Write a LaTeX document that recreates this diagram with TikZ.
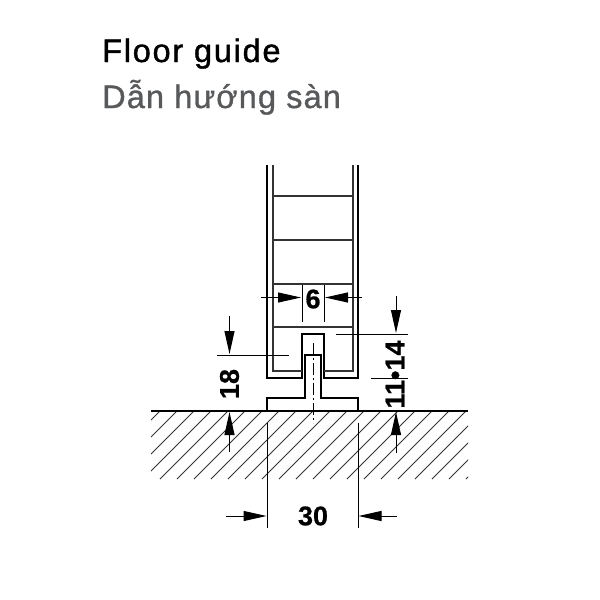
\documentclass[tikz,border=0pt]{standalone}
\usepackage{fontspec}
\setmainfont{Liberation Sans}
\newfontfamily\titlefont[LetterSpace=5.4,FakeBold=1.2]{Liberation Sans}
\newfontfamily\subtitlefont[LetterSpace=3.5,FakeBold=1]{Liberation Sans}
\newfontfamily\dimfont[FakeBold=.6]{Liberation Sans Bold}
\usetikzlibrary{arrows.meta,positioning}
\definecolor{subgray}{HTML}{58595B}
\definecolor{thingray}{HTML}{333333}
\begin{document}
\begin{tikzpicture}[x=1pt,y=-1pt,
		thick line/.style={line width=2pt, black},
		thin line/.style={line width=1.2pt, thingray},
		dimline/.style={line width=1pt, black},
		dimarrow/.style={line width=1pt, black, -{Triangle[length=23pt,width=10pt]}},
		dimtext/.style={font=\dimfont\fontsize{27}{27}\selectfont, inner sep=0pt}]
	\useasboundingbox (0,0) rectangle (600,600);
	\node[anchor=base west, inner sep=0pt, font=\titlefont\fontsize{32.5}{33}\selectfont] (title) at (102,62) {Floor guide};
	\node[anchor=base west, inner sep=0pt, font=\subtitlefont\fontsize{32.5}{33}\selectfont, text=subgray] (subtitle) at (102,108) {Dẫn hướng sàn};
	% floor hatching
	\begin{scope}
		\clip (151,411) rectangle (468,479);
		\foreach \hx in {75,92,...,500}{
			\draw[line width=.9pt, thingray] (\hx,479) -- ++(68,-68);
		}
	\end{scope}
	\draw[thick line] (151,411) -- (468,411);
	% profile
	\draw[thick line] (267,165) -- (267,378) -- (302,378) -- (302,334) -- (324,334) -- (324,378) -- (358,378) -- (358,165);
	\draw[thin line] (273,165) -- (273,371) -- (302,371);
	\draw[thin line] (324,371) -- (353,371) -- (353,165);
	\foreach \ry in {196,240,284,327}{
		\draw[thin line] (273,\ry) -- (353,\ry);
	}
	% guide
	\draw[thick line] (267,411) -- (267,398) -- (305,398) -- (305,355) -- (321,355) -- (321,398) -- (358,398) -- (358,411);
	\draw[line width=.9pt, dash pattern=on 12pt off 3pt on 2pt off 3pt] (313,343) -- (313,423);
	% dimension 6
	\node[dimtext] (six) at (313,299) {6};
	\coordinate (sixL) at (301,297.5);
	\coordinate (sixR) at (325,297.5);
	\coordinate (sixLend) at (261,297.5);
	\coordinate (sixRend) at (362,297.5);
	\draw[dimline] (302,285) -- (302,322);
	\draw[dimline] (324,285) -- (324,322);
	\draw[dimarrow] (sixLend) -- (sixL);
	\draw[dimarrow] (sixRend) -- (sixR);
	% dimension 18
	\node[dimtext, rotate=90] (eighteen) at (229.5,384) {18};
	\coordinate (lowL) at (229.5,354);
	\coordinate (lowLend) at (229.5,316);
	\coordinate (floorL) at (229.5,412);
	\coordinate (floorLend) at (229.5,452);
	\draw[dimline] (217,355) -- (289,355);
	\draw[dimarrow] (lowLend) -- (lowL);
	\draw[dimarrow] (floorLend) -- (floorL);
	% dimension 11-14
	\node[dimtext, rotate=90] (range) at (395,374.5) {11•14};
	\coordinate (topR) at (396,333);
	\coordinate (topRend) at (396,296);
	\coordinate (floorR) at (396,412);
	\coordinate (floorRend) at (396,453);
	\draw[dimline] (336,334.5) -- (408,334.5);
	\draw[dimline] (371,378.5) -- (408,378.5);
	\draw[dimarrow] (topRend) -- (topR);
	\draw[dimarrow] (floorRend) -- (floorR);
	% dimension 30
	\node[dimtext] (thirty) at (313,516) {30};
	\coordinate (widthL) at (266.5,516);
	\coordinate (widthR) at (358.5,516);
	\coordinate (widthLend) at (226,516);
	\coordinate (widthRend) at (397,516);
	\draw[dimline] (267,423) -- (267,528);
	\draw[dimline] (358,423) -- (358,528);
	\draw[dimarrow] (widthLend) -- (widthL);
	\draw[dimarrow] (widthRend) -- (widthR);
\end{tikzpicture}
\end{document}
